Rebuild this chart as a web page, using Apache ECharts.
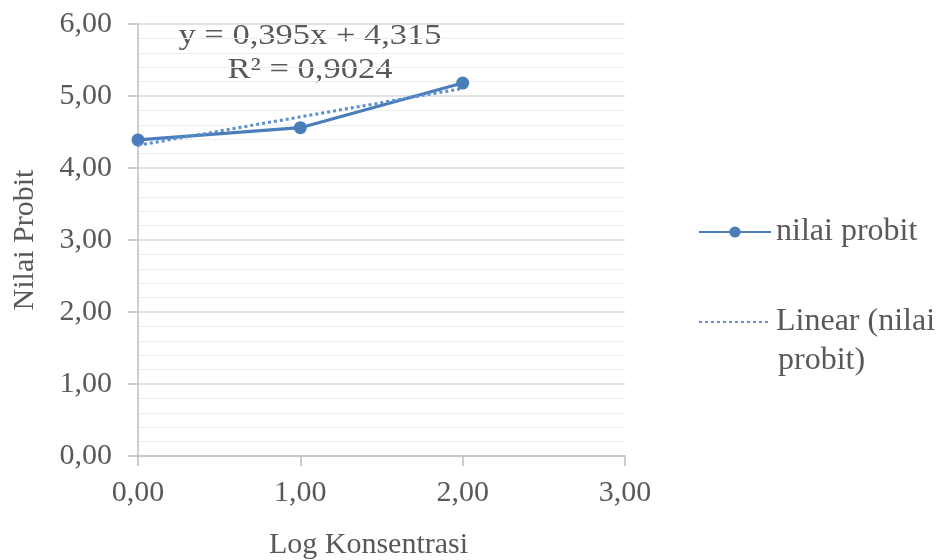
<!DOCTYPE html>
<html>
<head>
<meta charset="utf-8">
<script src="https://cdn.jsdelivr.net/npm/echarts@6/dist/echarts.min.js"></script>
<style>html,body{margin:0;padding:0;background:#fff}#c{width:950px;height:560px}</style>
</head>
<body>
<div id="c"></div>
<script>
var logKonsentrasi = [0, 1, 2];
var nilaiProbit = [4.39, 4.56, 5.18];
var trendX = [0, 2];
var trendY = [4.315, 5.105];
var xTicks = [0, 1, 2, 3];
var yTicks = [0, 1, 2, 3, 4, 5, 6];
var equationText = 'y = 0,395x + 4,315';
var r2Text = 'R² = 0,9024';
var seriesNames = ['nilai probit', 'Linear (nilai probit)'];

var FONT = '"Liberation Serif", "Times New Roman", serif';
var TXT = '#595959';
var fmt = function (v) { return v.toFixed(2).replace('.', ','); };

var chart = echarts.init(document.getElementById('c'), null, {renderer: 'canvas'});
chart.setOption({
  animation: false,
  backgroundColor: '#ffffff',
  textStyle: {fontFamily: FONT, color: TXT},
  grid: {left: 138, top: 24, right: 325, bottom: 104, containLabel: false, outerBoundsMode: 'none'},
  xAxis: {
    type: 'value', min: xTicks[0], max: xTicks[xTicks.length - 1], interval: 1,
    name: 'Log Konsentrasi', nameLocation: 'middle', nameGap: 74,
    nameTextStyle: {fontFamily: FONT, fontSize: 30, color: TXT, padding: [0, 26, 0, 0]},
    axisLine: {show: true, lineStyle: {color: '#bfbfbf', width: 1.5}},
    axisTick: {show: true, length: 10, lineStyle: {color: '#bfbfbf', width: 1.5}},
    axisLabel: {fontFamily: FONT, fontSize: 30, color: TXT, margin: 22, formatter: fmt},
    splitLine: {show: false}
  },
  yAxis: {
    type: 'value', min: yTicks[0], max: yTicks[yTicks.length - 1], interval: 1,
    name: 'Nilai Probit', nameLocation: 'middle', nameGap: 98,
    nameTextStyle: {fontFamily: FONT, fontSize: 30, color: TXT},
    axisLine: {show: true, lineStyle: {color: '#bfbfbf', width: 1.5}},
    axisTick: {show: true, length: 10, lineStyle: {color: '#bfbfbf', width: 1.5}},
    axisLabel: {fontFamily: FONT, fontSize: 30, color: TXT, margin: 26, formatter: fmt},
    splitLine: {show: true, lineStyle: {color: '#d9d9d9', width: 1.5}},
    minorTick: {show: false, splitNumber: 5},
    minorSplitLine: {show: true, lineStyle: {color: '#eeeeee', width: 1.2}}
  },
  legend: {
    orient: 'vertical', left: 693, top: 211, itemGap: 58,
    itemWidth: 72, itemHeight: 14, padding: 5,
    data: [
      {name: seriesNames[0]},
      {name: seriesNames[1], itemStyle: {opacity: 0}}
    ],
    formatter: function (n) { return n === seriesNames[1] ? 'Linear (nilai' : n; },
    textStyle: {fontFamily: FONT, fontSize: 32, color: TXT}
  },
  graphic: [
    {type: 'text', x: 778, y: 361, style: {text: 'probit)', font: '32px ' + FONT, fill: TXT, align: 'left', verticalAlign: 'middle'}},
    {type: 'text', x: 310, y: 36, scaleX: 1.15, style: {text: equationText, font: '30px ' + FONT, fill: TXT, align: 'center', verticalAlign: 'middle'}},
    {type: 'text', x: 310, y: 70, scaleX: 1.15, style: {text: r2Text, font: '30px ' + FONT, fill: TXT, align: 'center', verticalAlign: 'middle'}}
  ],
  series: [
    {
      name: seriesNames[0], type: 'line',
      data: logKonsentrasi.map(function (x, i) { return [x, nilaiProbit[i]]; }),
      symbol: 'circle', symbolSize: 13,
      itemStyle: {color: '#4a7ebb'},
      lineStyle: {color: '#4a7ebb', width: 3.2},
      z: 3
    },
    {
      name: seriesNames[1], type: 'line',
      data: trendX.map(function (x, i) { return [x, trendY[i]]; }),
      symbol: 'none', showSymbol: false,
      itemStyle: {color: '#5b8fd0'},
      lineStyle: {color: '#5b8fd0', width: 3, type: [3, 3]},
      z: 4
    }
  ]
});
</script>
</body>
</html>
